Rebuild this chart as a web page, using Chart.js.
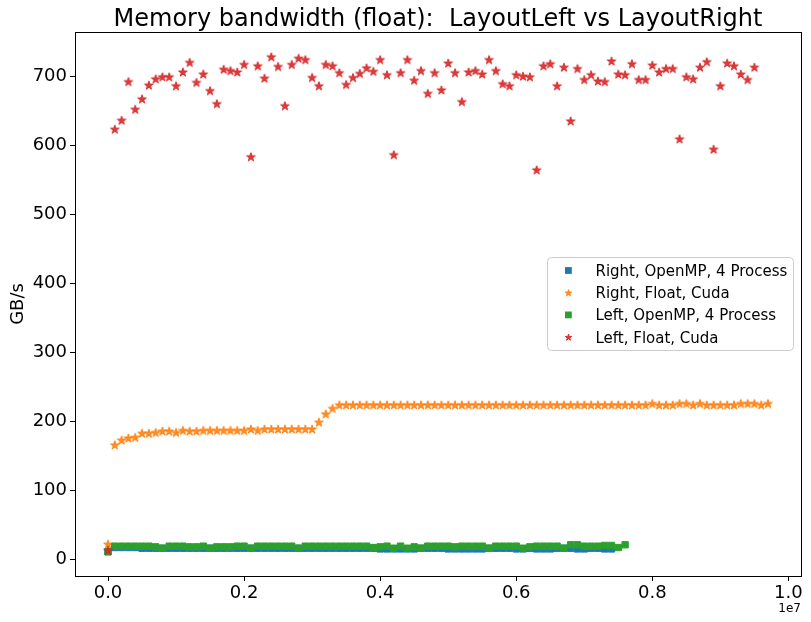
<!DOCTYPE html>
<html>
<head>
<meta charset="utf-8">
<script src="https://cdn.jsdelivr.net/npm/chart.js@4.4.1/dist/chart.umd.min.js"></script>
<style>
  html, body { margin: 0; padding: 0; background: #fff; }
  canvas { display: block; }
</style>
</head>
<body>
<canvas id="chart" width="811" height="622"></canvas>
<script>
// array size step between samples
const sizeStep = 100000;

// GB/s, sample i is at size i * sizeStep
const rightOpenMP = [
  11, 17, 17, 17, 17, 16, 16, 16, 16, 16,
  16, 16, 16, 16, 16, 16, 16, 16, 16, 16,
  16, 16, 16, 16, 16, 16, 16, 16, 16, 16,
  16, 16, 16, 16, 16, 16, 16, 16, 16, 16,
  15, 15, 15, 15, 15, 15, 16, 16, 16, 16,
  15, 15, 15, 15, 15, 15, 16, 16, 16, 16,
  15, 15, 16, 15, 15, 15, 16, 16, 16, 15,
  15, 16, 16, 15, 15
];

const rightCuda = [
  22, 166, 173, 176, 177, 183, 183, 184, 186, 186,
  184, 187, 186, 186, 187, 187, 187, 187, 187, 187,
  187, 189, 187, 189, 189, 189, 189, 189, 189, 189,
  189, 199, 211, 219, 224, 224, 224, 224, 224, 224,
  224, 224, 224, 224, 224, 224, 224, 224, 224, 224,
  224, 224, 224, 224, 224, 224, 224, 224, 224, 224,
  224, 224, 224, 224, 224, 224, 224, 224, 224, 224,
  224, 224, 224, 224, 224, 224, 224, 224, 224, 224,
  226, 224, 224, 224, 226, 226, 224, 226, 224, 224,
  224, 224, 224, 226, 226, 226, 224, 226
];

const leftOpenMP = [
  11, 19, 19, 19, 19, 19, 19, 18, 16, 19,
  19, 19, 18, 18, 19, 16, 18, 18, 18, 19,
  19, 16, 19, 19, 19, 19, 19, 19, 16, 19,
  19, 19, 19, 19, 19, 19, 19, 19, 19, 17,
  18, 19, 16, 19, 16, 18, 16, 19, 19, 19,
  19, 18, 19, 19, 19, 19, 16, 19, 19, 19,
  19, 16, 18, 19, 19, 19, 19, 16, 21, 21,
  19, 19, 19, 20, 20, 17, 21
];

const leftCuda = [
  13, 624, 637, 693, 653, 668, 688, 697, 700, 700,
  687, 707, 721, 692, 704, 680, 661, 711, 709, 707,
  718, 584, 716, 698, 729, 715, 658, 718, 727, 725,
  699, 687, 718, 716, 706, 689, 699, 705, 713, 708,
  725, 703, 587, 706, 725, 695, 709, 676, 706, 681,
  720, 706, 664, 707, 709, 704, 725, 709, 690, 687,
  703, 701, 700, 565, 716, 719, 687, 714, 636, 712,
  696, 703, 694, 693, 723, 704, 703, 719, 696, 696,
  717, 707, 712, 712, 610, 700, 697, 714, 722, 595,
  687, 720, 716, 704, 696, 714
];

const seriesLabels = [
  'Right, OpenMP, 4 Process',
  'Right, Float, Cuda',
  'Left, OpenMP, 4 Process',
  'Left, Float, Cuda'
];
const seriesColors = ['#1f77b4', '#ff7f0e', '#2ca02c', '#d62728'];
const seriesMarkers = ['square', 'star', 'square', 'star'];
const seriesValues = [rightOpenMP, rightCuda, leftOpenMP, leftCuda];

const titleText = 'Memory bandwidth (float):  LayoutLeft vs LayoutRight';
const yLabel = 'GB/s';
const xTicks = [0, 2000000, 4000000, 6000000, 8000000, 10000000];
const font = '"DejaVu Sans"';

function toPoints(values) {
  return values.map((y, i) => ({ x: i * sizeStep, y: y }));
}

function drawStar(g, cx, cy, outer, color) {
  const inner = outer * 0.382;
  g.beginPath();
  for (let i = 0; i < 10; i++) {
    const r = i % 2 ? inner : outer;
    const a = -Math.PI / 2 + i * Math.PI / 5;
    g.lineTo(cx + r * Math.cos(a), cy + r * Math.sin(a));
  }
  g.closePath();
  g.globalAlpha = 0.9;
  g.fillStyle = color;
  g.fill();
  g.lineWidth = 1;
  g.strokeStyle = color;
  g.stroke();
  g.globalAlpha = 1;
}

function starCanvas(color, outer) {
  const s = Math.ceil(outer * 2 + 4);
  const c = document.createElement('canvas');
  c.width = s;
  c.height = s;
  drawStar(c.getContext('2d'), s / 2, s / 2 + outer * 0.1, outer, color);
  return c;
}

const datasets = seriesValues.map((values, i) => ({
  label: seriesLabels[i],
  data: toPoints(values),
  showLine: false,
  pointStyle: seriesMarkers[i] === 'star' ? starCanvas(seriesColors[i], 4.6) : 'rect',
  pointRadius: 4.5,
  pointBorderWidth: 1,
  backgroundColor: seriesColors[i],
  borderColor: seriesColors[i],
  // matplotlib draws later series on top
  order: seriesValues.length - i
}));

const decor = {
  id: 'decor',
  afterDraw(chart) {
    const { ctx, chartArea: a } = chart;
    ctx.save();

    ctx.strokeStyle = '#000';
    ctx.lineWidth = 1;
    ctx.strokeRect(Math.round(a.left) + 0.5, Math.round(a.top) + 0.5,
      Math.round(a.right - a.left), Math.round(a.bottom - a.top));

    ctx.fillStyle = '#000';
    ctx.font = '24px ' + font;
    ctx.textAlign = 'center';
    ctx.textBaseline = 'alphabetic';
    ctx.fillText(titleText, (a.left + a.right) / 2, 26);

    ctx.save();
    ctx.translate(23, (a.top + a.bottom) / 2);
    ctx.rotate(-Math.PI / 2);
    ctx.font = '18px ' + font;
    ctx.fillText(yLabel, 0, 0);
    ctx.restore();

    ctx.font = '12px ' + font;
    ctx.textAlign = 'right';
    ctx.fillText('1e7', a.right, 612);

    // legend box
    const bx = 547.5, by = 257.5, bw = 246, bh = 93, r = 4;
    ctx.beginPath();
    ctx.moveTo(bx + r, by);
    ctx.arcTo(bx + bw, by, bx + bw, by + bh, r);
    ctx.arcTo(bx + bw, by + bh, bx, by + bh, r);
    ctx.arcTo(bx, by + bh, bx, by, r);
    ctx.arcTo(bx, by, bx + bw, by, r);
    ctx.closePath();
    ctx.fillStyle = 'rgba(255,255,255,0.8)';
    ctx.fill();
    ctx.strokeStyle = '#cccccc';
    ctx.stroke();

    ctx.font = '15px ' + font;
    ctx.textAlign = 'left';
    seriesLabels.forEach((label, i) => {
      const cy = 270.5 + i * 22.2;
      if (seriesMarkers[i] === 'star') {
        drawStar(ctx, 568.5, cy + 0.4, 3.4, seriesColors[i]);
      } else {
        ctx.fillStyle = seriesColors[i];
        ctx.fillRect(565, cy - 3.4, 6.8, 6.8);
      }
      ctx.fillStyle = '#000';
      ctx.fillText(label, 595.5, cy + 5.5);
    });

    ctx.restore();
  }
};

new Chart(document.getElementById('chart'), {
  type: 'scatter',
  data: { datasets },
  options: {
    responsive: false,
    animation: false,
    devicePixelRatio: 1,
    events: [],
    layout: { padding: { left: 0, right: 10, top: 32, bottom: 0 } },
    plugins: {
      legend: { display: false },
      title: { display: false },
      tooltip: { enabled: false }
    },
    scales: {
      x: {
        type: 'linear',
        min: -485000,
        max: 10185000,
        afterFit(scale) { scale.height = 46; },
        afterBuildTicks(scale) { scale.ticks = xTicks.map(v => ({ value: v })); },
        ticks: {
          includeBounds: false,
          autoSkip: false,
          maxRotation: 0,
          padding: 2,
          color: '#000',
          font: { family: 'DejaVu Sans', size: 18 },
          callback: v => (v / 1e7).toFixed(1)
        },
        grid: { drawOnChartArea: false, drawTicks: true, tickLength: 5, color: '#000' },
        border: { display: false }
      },
      y: {
        min: -24.3,
        max: 765,
        afterFit(scale) { scale.width = 75; },
        ticks: {
          stepSize: 100,
          includeBounds: false,
          padding: 3,
          color: '#000',
          font: { family: 'DejaVu Sans', size: 18 }
        },
        grid: { drawOnChartArea: false, drawTicks: true, tickLength: 5, color: '#000' },
        border: { display: false }
      }
    }
  },
  plugins: [decor]
});
</script>
</body>
</html>
